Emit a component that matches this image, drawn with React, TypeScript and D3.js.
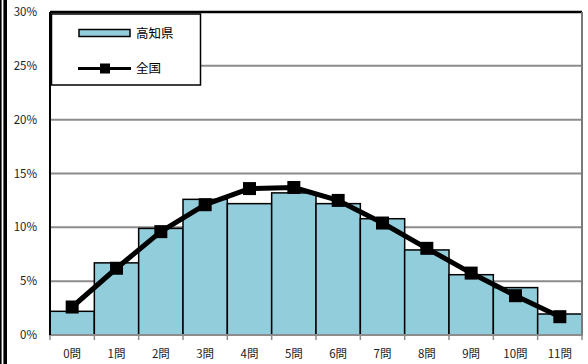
import React from "react";
import * as d3 from "d3";

// Correct-answer distribution: share of students by number of correct answers
const categories = ["0問", "1問", "2問", "3問", "4問", "5問", "6問", "7問", "8問", "9問", "10問", "11問"];
const kochiValues = [2.2, 6.7, 9.9, 12.6, 12.2, 13.2, 12.2, 10.8, 7.9, 5.6, 4.4, 1.95];
const nationalValues = [2.6, 6.2, 9.6, 12.1, 13.6, 13.7, 12.5, 10.4, 8.05, 5.75, 3.65, 1.7];
const yTicks = [0, 5, 10, 15, 20, 25, 30];
const seriesNames = ["高知県", "全国"];

const W = 588;
const H = 364;
const M = { left: 50, right: 582, top: 12, bottom: 335 };
const FONT = "'Noto Sans CJK JP', 'Noto Sans', sans-serif";

export default function App() {
  const x = d3.scaleBand<string>().domain(categories).range([M.left, M.right]).padding(0);
  const y = d3.scaleLinear().domain([0, 30]).range([M.bottom, M.top]);
  const line = d3
    .line<number>()
    .x((_, i) => (x(categories[i]) as number) + x.bandwidth() / 2)
    .y((d) => y(d));

  const ms = 13;
  return (
    <svg
      width={W}
      height={H}
      style={{ position: "absolute", left: 0, top: 0, background: "#fff" }}
      fontFamily={FONT}
    >
      {/* outer frame on the left */}
      <rect x={0} y={0} width={1.6} height={H} fill="#000" />
      <rect x={3.4} y={0} width={3.6} height={H} fill="#000" />

      {/* gridlines */}
      {yTicks.slice(1, -1).map((t) => (
        <line key={t} x1={M.left} x2={M.right} y1={y(t)} y2={y(t)} stroke="#8c8c8c" strokeWidth={2} />
      ))}

      {/* y tick labels */}
      {yTicks.map((t) => (
        <text key={t} x={37} y={y(t) + 4} textAnchor="end" fontSize={11.5} fill="#222">
          {t}%
        </text>
      ))}

      {/* bars */}
      {kochiValues.map((v, i) => (
        <rect
          key={i}
          x={x(categories[i])}
          y={y(v)}
          width={x.bandwidth()}
          height={y(0) - y(v)}
          fill="#92cddc"
          stroke="#000"
          strokeWidth={1.5}
        />
      ))}

      {/* x axis and ticks */}
      <line x1={M.left} x2={M.right} y1={M.bottom} y2={M.bottom} stroke="#8c8c8c" strokeWidth={2} />
      {d3.range(categories.length + 1).map((i) => {
        const xx = M.left + i * x.bandwidth();
        return <line key={i} x1={xx} x2={xx} y1={M.bottom} y2={M.bottom + 5} stroke="#8c8c8c" strokeWidth={1.5} />;
      })}
      {categories.map((c) => (
        <text
          key={c}
          x={(x(c) as number) + x.bandwidth() / 2}
          y={358}
          textAnchor="middle"
          fontSize={11.5}
          fill="#222"
        >
          {c}
        </text>
      ))}

      {/* plot borders */}
      <line x1={M.left} x2={M.right} y1={M.top} y2={M.top} stroke="#000" strokeWidth={2.5} />
      <line x1={M.left} x2={M.left} y1={M.top} y2={M.bottom} stroke="#000" strokeWidth={2} />
      <line x1={M.right} x2={M.right} y1={M.top} y2={M.bottom} stroke="#7a7a7a" strokeWidth={2} />

      {/* national line */}
      <path d={line(nationalValues) as string} fill="none" stroke="#000" strokeWidth={5} strokeLinejoin="round" />
      {nationalValues.map((v, i) => (
        <rect
          key={i}
          x={(x(categories[i]) as number) + x.bandwidth() / 2 - ms / 2}
          y={y(v) - ms / 2}
          width={ms}
          height={ms}
          fill="#000"
        />
      ))}

      {/* legend */}
      <rect x={51.5} y={14} width={149} height={71} fill="#fff" stroke="#000" strokeWidth={1.5} />
      <rect x={79} y={29.5} width={51} height={7} fill="#92cddc" stroke="#000" strokeWidth={1.5} />
      <text x={136} y={37.5} fontSize={12.5} fill="#000">
        {seriesNames[0]}
      </text>
      <line x1={78} x2={131} y1={68.5} y2={68.5} stroke="#000" strokeWidth={3} />
      <rect x={100} y={63.5} width={10} height={10} fill="#000" />
      <text x={136} y={73} fontSize={12.5} fill="#000">
        {seriesNames[1]}
      </text>
    </svg>
  );
}
